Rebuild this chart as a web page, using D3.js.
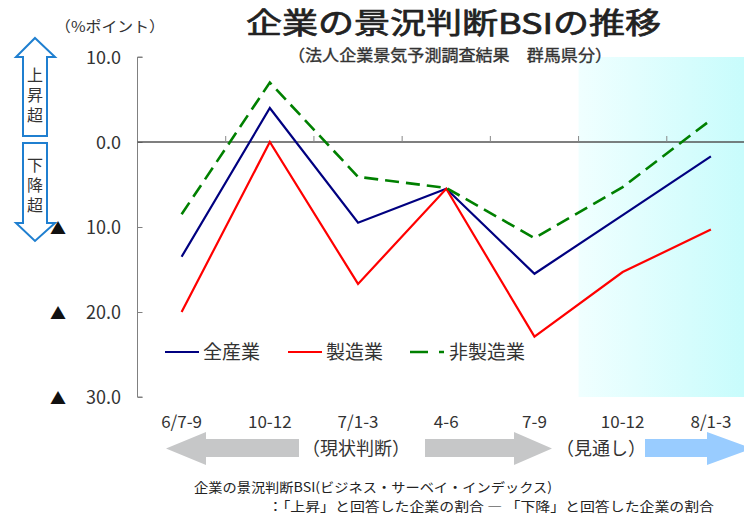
<!DOCTYPE html>
<html><head><meta charset="utf-8">
<script src="https://cdn.jsdelivr.net/npm/d3@7"></script>
<style>
html,body{margin:0;padding:0;background:#fff;}
svg{display:block;font-family:"Noto Sans CJK JP","Noto Sans",sans-serif;}
</style></head>
<body><svg id="c" width="744" height="514"></svg>
<script>
const categories = ["6/7-9","10-12","7/1-3","4-6","7-9","10-12","8/1-3"];
const allIndustries = [-13.5, 4.0, -9.5, -5.5, -15.5, -8.6, -1.7];
const manufacturing = [-20.0, 0.0, -16.7, -5.5, -22.9, -15.3, -10.3];
const nonManufacturing = [-8.5, 7.0, -4.1, -5.4, -11.3, -5.3, 2.6];
const seriesNames = ["全産業","製造業","非製造業"];
const seriesColors = ["#000080","#ff0000","#008000"];
const yTicks = [10, 0, -10, -20, -30];
const forecastStart = 5; // index of first forecast category

const svg = d3.select("#c");
const idx = d3.range(categories.length);
const x = d3.scaleBand().domain(idx).range([137.5, 755]).padding(0);
const y = d3.scaleLinear().domain([-30, 10]).range([397, 57]);
const cx = i => x(i) + x.bandwidth()/2;

// forecast background gradient
const defs = svg.append("defs");
const g1 = defs.append("linearGradient").attr("id","fc").attr("x1","0").attr("x2","1").attr("y1","0").attr("y2","0");
g1.append("stop").attr("offset","0").attr("stop-color","#f0ffff");
g1.append("stop").attr("offset","1").attr("stop-color","#c8fcfc");
svg.append("rect").attr("x", x(forecastStart)).attr("y", y(10))
  .attr("width", 744 - x(forecastStart)).attr("height", y(-30) - y(10)).attr("fill","url(#fc)");

// y axis
const yAxis = d3.axisRight(y).tickValues(yTicks).tickSize(5).tickFormat("");
const ya = svg.append("g").attr("transform","translate(137.5,0)").call(yAxis);
ya.select(".domain").attr("stroke","#808080").attr("d", `M5,${y(10)}H0V${y(-30)}H5`);
ya.selectAll(".tick line").attr("stroke","#808080");

// y labels
const yl = svg.append("g").attr("font-size",18).attr("fill","#333");
yTicks.forEach(v => {
  const t = yl.append("text").attr("y", y(v) + 6.5);
  if (v < 0) {
    t.append("tspan").attr("x", 58).attr("text-anchor","middle").attr("font-size",16).attr("fill","#111").text("▲");
    t.append("tspan").attr("x", 121).attr("text-anchor","end").text(d3.format(".1f")(Math.abs(v)));
  } else {
    t.attr("x",121).attr("text-anchor","end").text(d3.format(".1f")(v));
  }
});

// zero line with category ticks
const xAxis = d3.axisTop(x).tickValues([]).tickSizeOuter(0);
const xa = svg.append("g").attr("transform",`translate(0,${y(0)})`).call(xAxis);
xa.select(".domain").attr("stroke","#555").attr("stroke-width",1.3).attr("d","M137.5,0H744");
idx.slice(1).forEach(i => {
  xa.append("line").attr("x1", x(i)).attr("x2", x(i)).attr("y1", 0).attr("y2", -6).attr("stroke","#888");
});

// lines
const line = d3.line().x((d,i) => cx(i)).y(d => y(d));
const series = [allIndustries, manufacturing, nonManufacturing];
series.forEach((s, k) => {
  svg.append("path").datum(s).attr("d", line).attr("fill","none")
    .attr("stroke", seriesColors[k]).attr("stroke-width", k === 2 ? 2.6 : 2.2)
    .attr("stroke-dasharray", k === 2 ? "14,7" : null)
    .attr("stroke-linejoin","miter");
});

// legend
const legPos = [165, 288, 410];
const lg = svg.append("g").attr("font-size",19).attr("fill","#333");
seriesNames.forEach((n, k) => {
  lg.append("line").attr("x1", legPos[k]).attr("x2", legPos[k] + 34).attr("y1", 352).attr("y2", 352)
    .attr("stroke", seriesColors[k]).attr("stroke-width", k === 2 ? 2.6 : 2.2)
    .attr("stroke-dasharray", k === 2 ? "18,11,6" : null);
  lg.append("text").attr("x", legPos[k] + (k === 2 ? 39 : 38)).attr("y", 359).text(n);
});

// x labels
const xl = svg.append("g").attr("font-size",17).attr("fill","#333").attr("text-anchor","middle");
idx.forEach(i => xl.append("text").attr("x", cx(i)).attr("y", 428).text(categories[i]));

// title & subtitle
svg.append("text").attr("x", 246).attr("y", 33.6)
  .attr("font-size",29).attr("fill","#222").attr("stroke","#222").attr("stroke-width",0.7)
  .attr("textLength",415).attr("lengthAdjust","spacingAndGlyphs").text("企業の景況判断BSIの推移");
svg.append("text").attr("x", 288).attr("y", 61)
  .attr("font-size",16).attr("fill","#333").attr("stroke","#333").attr("stroke-width",0.35)
  .attr("textLength",324).attr("lengthAdjust","spacingAndGlyphs").text("（法人企業景気予測調査結果　群馬県分）");
svg.append("text").attr("x", 55).attr("y", 32).attr("font-size",15).attr("fill","#333")
  .attr("textLength",110).attr("lengthAdjust","spacingAndGlyphs").text("（%ポイント）");

// left blue arrows
const ab = svg.append("g").attr("fill","#fff").attr("stroke","#1f7fd0").attr("stroke-width",2);
ab.append("path").attr("d","M35,38 L55,57 L47,57 L47,136 L23,136 L23,57 L16,57 Z");
ab.append("path").attr("d","M23,143 L47,143 L47,223 L55,223 L35,241 L16,223 L23,223 Z");
const at = svg.append("g").attr("font-size",16).attr("fill","#333");
at.append("text").attr("x",35).attr("y",67).attr("writing-mode","tb").attr("letter-spacing",4).text("上昇超");
at.append("text").attr("x",35).attr("y",157).attr("writing-mode","tb").attr("letter-spacing",4).text("下降超");

// bottom arrows
const ga = svg.append("g");
ga.append("path").attr("fill","#c6c7c8").attr("d","M166,448.5 L206,432 L206,439 L299,439 L299,457 L206,457 L206,465 Z");
ga.append("path").attr("fill","#c6c7c8").attr("d","M425,439 L514,439 L514,432 L552,448.5 L514,465 L514,457 L425,457 Z");
ga.append("path").attr("fill","#99ccff").attr("d","M645,439 L707,439 L707,432 L752,448.5 L707,465 L707,457 L645,457 Z");
const bt = svg.append("g").attr("font-size",18).attr("fill","#333");
bt.append("text").attr("x",302).attr("y",455).text("（現状判断）");
bt.append("text").attr("x",556).attr("y",455).text("（見通し）");

// footnotes
const fn = svg.append("g").attr("font-size",13).attr("fill","#222");
fn.append("text").attr("x",194).attr("y",492).attr("textLength",358).attr("lengthAdjust","spacingAndGlyphs")
  .text("企業の景況判断BSI(ビジネス・サーベイ・インデックス)");
fn.append("text").attr("x",268).attr("y",511).attr("textLength",446).attr("lengthAdjust","spacingAndGlyphs")
  .text("：「上昇」と回答した企業の割合 ― 「下降」と回答した企業の割合");
</script></body></html>
